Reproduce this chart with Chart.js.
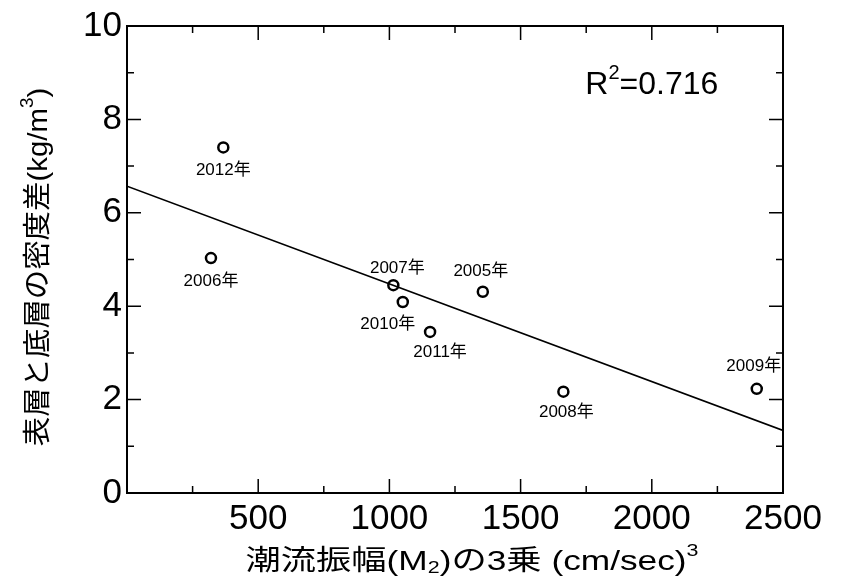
<!DOCTYPE html>
<html>
<head>
<meta charset="utf-8">
<script src="https://cdn.jsdelivr.net/npm/chart.js@4.4.0/dist/chart.umd.min.js"></script>
<style>
  body { margin: 0; background: #fff; }
  #wrap { width: 842px; height: 581px; }
</style>
</head>
<body>
<div id="wrap"><canvas id="chart" width="842" height="581"></canvas></div>
<script>
// Data
const years = ['2005年', '2006年', '2007年', '2008年', '2009年', '2010年', '2011年', '2012年'];
const tidalCube = [1356, 320, 1015, 1663, 2400, 1051, 1155, 367];
const densityDiff = [4.31, 5.03, 4.45, 2.17, 2.23, 4.09, 3.45, 7.40];
const fitX = [0, 2500];
const fitY = [6.57, 1.34];
const xTicks = [0, 500, 1000, 1500, 2000, 2500];
const yTicks = [0, 2, 4, 6, 8, 10];

// label placement around each point (dx, dy in px)
const labelOffsets = [[-2, -20], [0, 23], [4, -17], [3, 21], [-3, -23], [-15, 22], [10, 20], [0, 23]];

const FONT = '"Liberation Sans", Arial, "Noto Sans CJK JP", sans-serif';

// draw text made of pieces (for super/subscripts), centred on x,y
function drawRich(c, parts, x, y, stretch) {
    stretch = stretch || 1;
    let total = 0;
    parts.forEach(p => { c.font = p[1] + 'px ' + FONT; total += c.measureText(p[0]).width; });
    c.save();
    c.translate(x, y);
    c.scale(stretch, 1);
    let cx = -total / 2;
    c.textAlign = 'left';
    c.textBaseline = 'middle';
    parts.forEach(p => {
        c.font = p[1] + 'px ' + FONT;
        c.fillText(p[0], cx, p[2]);
        cx += c.measureText(p[0]).width;
    });
    c.restore();
}

const decorPlugin = {
    id: 'decor',
    afterDraw(chart) {
        const c = chart.ctx;
        const a = chart.chartArea;
        const xs = chart.scales.x, ys = chart.scales.y;
        c.save();
        c.strokeStyle = '#000';
        c.fillStyle = '#000';

        // frame
        c.lineWidth = 2;
        c.strokeRect(a.left, a.top, a.right - a.left, a.bottom - a.top);

        // inward ticks
        c.lineWidth = 1.5;
        c.beginPath();
        for (let v = 0; v <= 2500; v += 250) {
            const px = xs.getPixelForValue(v);
            const len = v % 500 === 0 ? 14 : 7;
            c.moveTo(px, a.bottom); c.lineTo(px, a.bottom - len);
            c.moveTo(px, a.top); c.lineTo(px, a.top + len);
        }
        for (let v = 0; v <= 10; v += 1) {
            const py = ys.getPixelForValue(v);
            const len = v % 2 === 0 ? 14 : 7;
            c.moveTo(a.left, py); c.lineTo(a.left + len, py);
            c.moveTo(a.right, py); c.lineTo(a.right - len, py);
        }
        c.stroke();

        // point labels
        const meta = chart.getDatasetMeta(1);
        c.font = '17px ' + FONT;
        c.textAlign = 'center';
        c.textBaseline = 'middle';
        meta.data.forEach((pt, i) => {
            c.fillText(years[i], pt.x + labelOffsets[i][0], pt.y + labelOffsets[i][1]);
        });

        // R squared
        drawRich(c, [['R', 32, 0], ['2', 20, -11], ['=0.716', 32, 0]],
            xs.getPixelForValue(2000), ys.getPixelForValue(8.74));

        // x title
        drawRich(c, [['潮流振幅(M', 28, 0], ['2', 17, 6], [')の3乗 (cm/sec)', 28, 0], ['3', 17, -11]],
            472, 562, 1.26);

        // y title
        c.translate(39, 267);
        c.rotate(-Math.PI / 2);
        drawRich(c, [['表層と底層の密度差(kg/m', 28, 0], ['3', 18, -11], [')', 28, 0]], 0, 0, 1.05);
        c.restore();
    }
};

new Chart(document.getElementById('chart'), {
    data: {
        datasets: [
            {
                type: 'line',
                data: fitX.map((x, i) => ({ x: x, y: fitY[i] })),
                borderColor: '#000',
                borderWidth: 1.6,
                pointRadius: 0,
                fill: false
            },
            {
                type: 'scatter',
                data: tidalCube.map((x, i) => ({ x: x, y: densityDiff[i] })),
                pointRadius: 5,
                borderWidth: 2.5,
                borderColor: '#000',
                backgroundColor: '#fff'
            }
        ]
    },
    options: {
        responsive: false,
        animation: false,
        layout: { padding: { top: 24, right: 59, left: 0, bottom: 0 } },
        plugins: { legend: { display: false }, tooltip: { enabled: false } },
        scales: {
            x: {
                type: 'linear',
                min: 0, max: 2500,
                afterBuildTicks: s => { s.ticks = xTicks.map(v => ({ value: v })); },
                afterFit: s => { s.height = 88; },
                grid: { display: false, drawTicks: false },
                border: { display: false },
                ticks: {
                    padding: 5,
                    color: '#000',
                    font: { size: 35, family: FONT },
                    callback: v => v === 0 ? '' : String(v),
                    maxRotation: 0
                }
            },
            y: {
                type: 'linear',
                min: 0, max: 10,
                afterBuildTicks: s => { s.ticks = yTicks.map(v => ({ value: v })); },
                afterFit: s => { s.width = 127; },
                grid: { display: false, drawTicks: false },
                border: { display: false },
                ticks: {
                    padding: 5,
                    color: '#000',
                    font: { size: 35, family: FONT }
                }
            }
        }
    },
    plugins: [decorPlugin]
});
</script>
</body>
</html>
